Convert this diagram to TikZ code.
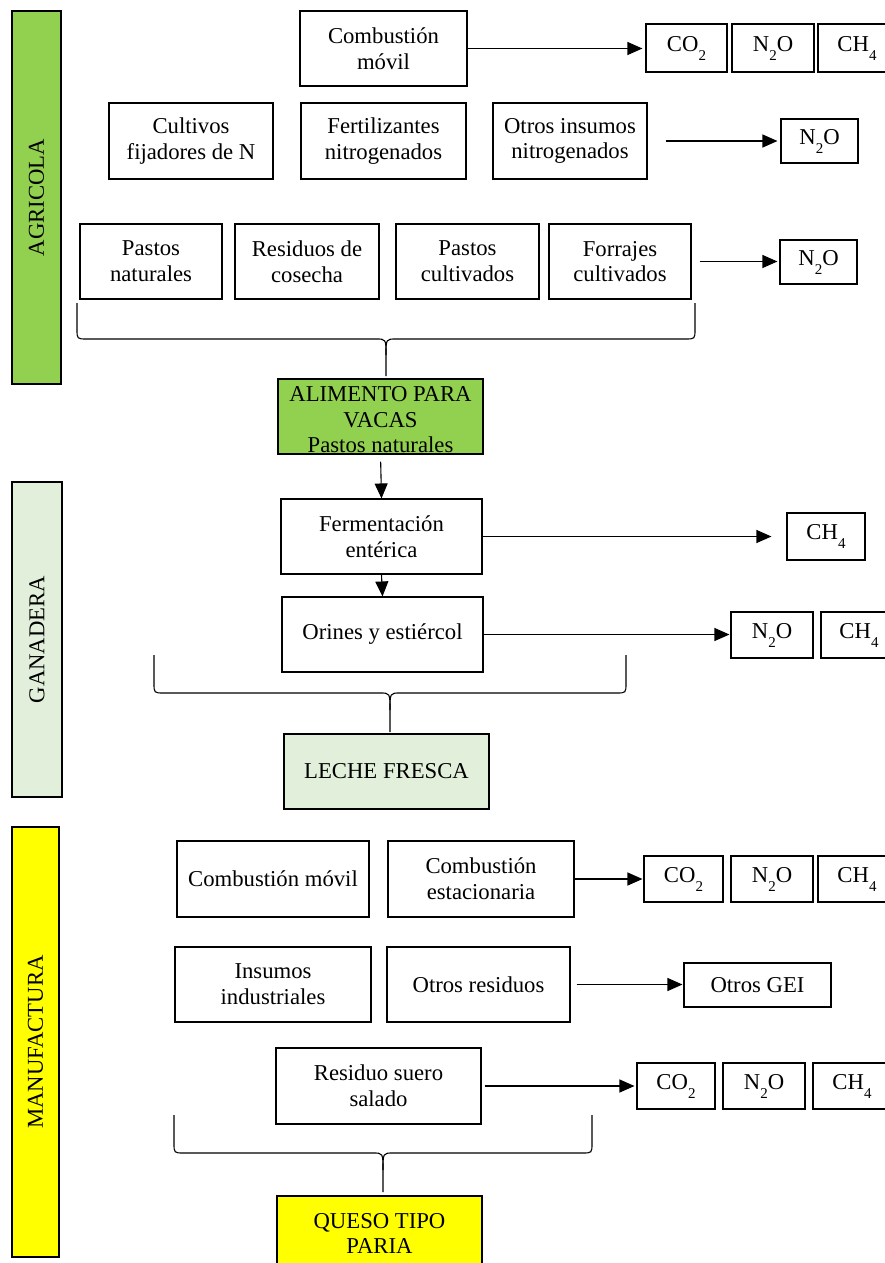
\documentclass[tikz,border=0pt]{standalone}
\usepackage{fontspec}
\setmainfont{Liberation Serif}
\usepackage{tikz}
\usetikzlibrary{arrows.meta, positioning, calc}
\definecolor{verdeagri} {RGB}{146, 208,  80}
\definecolor{verdegan}  {RGB}{226, 239, 218}
\definecolor{amarillo}  {RGB}{255, 255,   0}
\newcommand{\indice}[1]{\raisebox{-9pt}{\fontsize{15}{15}\selectfont #1}}

\begin{document}
\begin{tikzpicture}[x=1pt,y=-1pt,
	caja/.style={draw,line width=1.1pt,inner sep=0pt,align=center,minimum height=75pt,font=\fontsize{22.7}{25.8}\selectfont},
	gas/.style={caja,minimum height=46pt},
	barra/.style={draw,line width=1.1pt,inner sep=0pt,rotate=90,font=\fontsize{22.7}{25.8}\selectfont},
	flecha/.style={line width=1.1pt,-{Triangle[length=15pt,width=13pt]}},
	llave/.style={line width=1.1pt}]
	\useasboundingbox (0,0) rectangle (885,1263);
	\clip (0,0) rectangle (885,1263);
	% AGRICOLA
	\node[barra,fill=verdeagri,minimum width=373pt,minimum height=49pt] (agricola) at (36.5,197.5) {AGRICOLA};
	\node[caja,minimum width=167pt] (comb1) at (383.5,48.5) {Combustión\\móvil};
	\node[gas,minimum width=81pt,minimum height=48pt] (co2a) at (686.5,48) {CO\indice{2}};
	\node[gas,minimum width=82pt,minimum height=48pt] (n2oa) at (773,48) {N\indice{2}O};
	\node[gas,minimum width=78pt,minimum height=48pt] (ch4a) at (857,48) {CH\indice{4}};
	\node[caja,minimum width=164pt,minimum height=76pt] (cultivos) at (191,141) {Cultivos\\fijadores de N};
	\node[caja,minimum width=165pt,minimum height=76pt] (fertil) at (383.5,141) {Fertilizantes\\nitrogenados};
	\node[caja,minimum width=154pt,minimum height=76pt] (otrosins) at (570,141) {Otros insumos\\nitrogenados};
	\node[gas,minimum width=77pt,minimum height=44pt] (n2ob) at (819.5,141) {N\indice{2}O};
	\node[caja,minimum width=142pt] (pastnat) at (151,261.5) {Pastos\\naturales};
	\node[caja,minimum width=144pt] (residuos) at (307,261.5) {Residuos de\\cosecha};
	\node[caja,minimum width=143pt] (pastcult) at (467.5,261.5) {Pastos\\cultivados};
	\node[caja,minimum width=142pt] (forrajes) at (620,261.5) {Forrajes\\cultivados};
	\node[gas,minimum width=77pt,minimum height=44pt] (n2oc) at (818.5,262) {N\indice{2}O};
	\node[caja,fill=verdeagri,minimum width=205pt] (alimento) at (380.5,416.5) {};
	\node[align=center,inner sep=0pt,anchor=north,font=\fontsize{22.7}{25.5}\selectfont] (alimentotxt) at ($(alimento.north)+(0,8)$) {ALIMENTO PARA\\VACAS\\Pastos naturales};
	\draw[flecha,shorten >=3pt] (comb1.east) -- (comb1.east -| co2a.west);
	\draw[flecha,shorten <=18pt,shorten >=3pt] (otrosins.east) -- (otrosins.east -| n2ob.west);
	\draw[flecha,shorten <=8pt,shorten >=2pt] (forrajes.east) -- (forrajes.east -| n2oc.west);
	\draw[llave] (77,303) -- (77,329) .. controls (77,339) .. (87,339) -- (376,339) .. controls (386,339) .. (386,355) -- (386,376);
	\draw[llave] (695,303) -- (695,329) .. controls (695,339) .. (685,339) -- (396,339) .. controls (386,339) .. (386,355);
	% GANADERA
	\node[barra,fill=verdegan,minimum width=315pt,minimum height=50pt] (ganadera) at (37,639.5) {GANADERA};
	\node[caja,minimum width=201pt] (ferm) at (381.5,536.5) {Fermentación\\entérica};
	\node[gas,minimum width=78pt,minimum height=47pt] (ch4b) at (826,536.5) {CH\indice{4}};
	\node[caja,minimum width=201pt] (orines) at (382.5,634.5) {Orines y estiércol};
	\node[gas,minimum width=82pt] (n2od) at (772,635) {N\indice{2}O};
	\node[gas,minimum width=76pt] (ch4c) at (859,635) {CH\indice{4}};
	\node[caja,fill=verdegan,minimum width=205pt] (leche) at (386.5,771.5) {LECHE FRESCA};
	\draw[flecha,shorten <=7pt] (alimento.south) -- (ferm.north);
	\draw[flecha] (ferm.south) -- (orines.north);
	\draw[flecha,shorten >=15pt] (ferm.east) -- (ferm.east -| ch4b.west);
	\draw[flecha,shorten >=1pt] (orines.east) -- (orines.east -| n2od.west);
	\draw[llave] (154,655) -- (154,683) .. controls (154,693) .. (164,693) -- (380,693) .. controls (390,693) .. (390,710) -- (390,732);
	\draw[llave] (626,655) -- (626,683) .. controls (626,693) .. (616,693) -- (400,693) .. controls (390,693) .. (390,710);
	% MANUFACTURA
	\node[barra,fill=amarillo,minimum width=430pt,minimum height=47pt] (manufactura) at (35.5,1042) {MANUFACTURA};
	\node[caja,minimum width=192pt,minimum height=76pt] (combmov) at (273,879) {Combustión móvil};
	\node[caja,minimum width=186pt,minimum height=76pt] (combest) at (481,879) {Combustión\\estacionaria};
	\node[gas,minimum width=79pt] (co2c) at (683.5,879) {CO\indice{2}};
	\node[gas,minimum width=82pt] (n2oe) at (772,879) {N\indice{2}O};
	\node[gas,minimum width=78pt] (ch4d) at (857,879) {CH\indice{4}};
	\node[caja,minimum width=196pt] (insumos) at (273,984.5) {Insumos\\industriales};
	\node[caja,minimum width=183pt] (otrosres) at (478.5,984.5) {Otros residuos};
	\node[gas,minimum width=147pt,minimum height=44pt] (gei) at (757.5,985) {Otros GEI};
	\node[caja,minimum width=205pt,minimum height=76pt] (suero) at (378.5,1086) {Residuo suero\\salado};
	\node[gas,minimum width=78pt] (co2d) at (676,1086) {CO\indice{2}};
	\node[gas,minimum width=82pt] (n2of) at (764,1086) {N\indice{2}O};
	\node[gas,minimum width=78pt] (ch4e) at (852,1086) {CH\indice{4}};
	\node[caja,fill=amarillo,minimum width=205pt] (queso) at (379.5,1233.5) {QUESO TIPO\\PARIA};
	\draw[flecha,shorten >=1pt] (combest.east) -- (combest.east -| co2c.west);
	\draw[flecha,shorten <=6pt,shorten >=1pt] (otrosres.east) -- (otrosres.east -| gei.west);
	\draw[flecha,shorten <=3pt,shorten >=2pt] (suero.east) -- (suero.east -| co2d.west);
	\draw[llave] (174,1115) -- (174,1143) .. controls (174,1153) .. (184,1153) -- (373,1153) .. controls (383,1153) .. (383,1170) -- (383,1192);
	\draw[llave] (592,1115) -- (592,1143) .. controls (592,1153) .. (582,1153) -- (393,1153) .. controls (383,1153) .. (383,1170);
\end{tikzpicture}
\end{document}
